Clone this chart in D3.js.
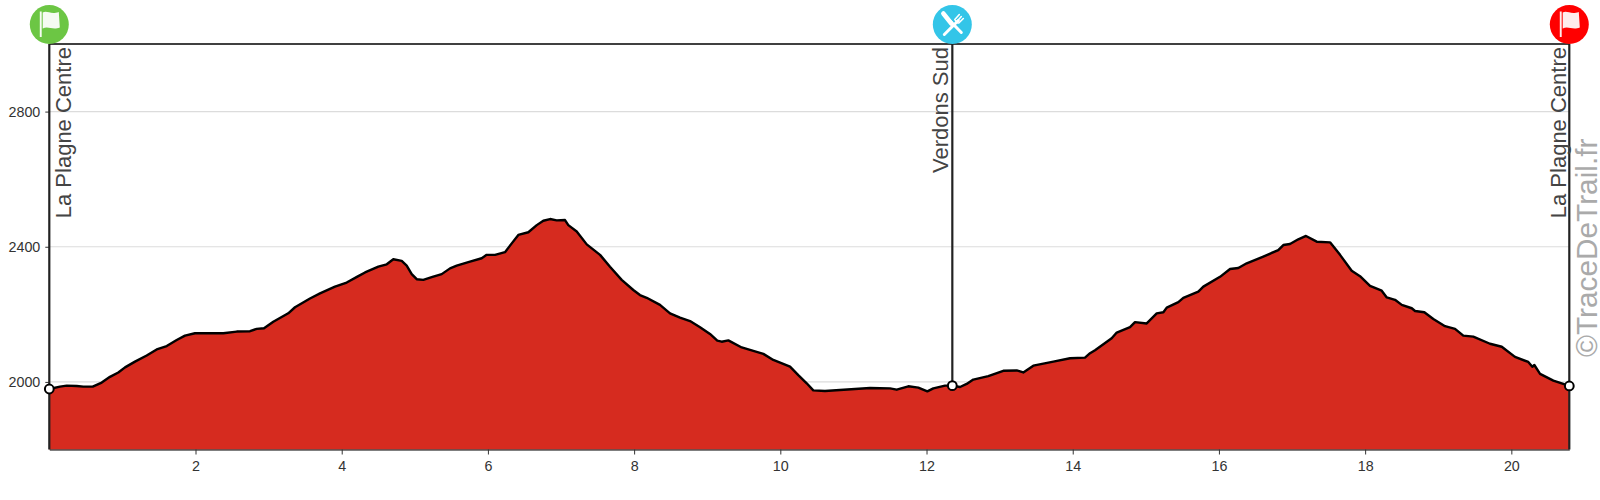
<!DOCTYPE html>
<html>
<head>
<meta charset="utf-8">
<script src="https://cdn.jsdelivr.net/npm/d3@7/dist/d3.min.js"></script>
<style>
html,body{margin:0;padding:0;background:#fff;overflow:hidden}
svg{display:block}
text{font-family:"Liberation Sans",Arial,sans-serif}
</style>
</head>
<body>
<div id="chart"></div>
<script>
const distanceKm = [0,.146,.238,.375,.465,.594,.717,.83,.944,1.036,1.172,1.332,1.469,1.606,1.743,1.856,1.993,2.153,2.38,2.564,2.746,2.837,2.937,3.064,3.269,3.361,3.566,3.703,3.908,4.068,4.227,4.319,4.501,4.616,4.706,4.821,4.889,4.958,5.026,5.116,5.231,5.368,5.482,5.573,5.755,5.915,5.983,6.097,6.234,6.326,6.416,6.553,6.668,6.758,6.85,6.941,7.055,7.1,7.215,7.352,7.534,7.67,7.83,7.989,8.08,8.172,8.354,8.491,8.628,8.765,8.902,9.038,9.138,9.198,9.289,9.472,9.631,9.768,9.904,10.133,10.246,10.361,10.451,10.611,10.816,11.227,11.5,11.592,11.751,11.888,12.011,12.093,12.253,12.353,12.458,12.549,12.64,12.845,13.05,13.234,13.324,13.461,13.735,13.963,14.168,14.237,14.305,14.533,14.602,14.784,14.852,15.012,15.149,15.24,15.286,15.445,15.513,15.718,15.787,16.015,16.152,16.265,16.38,16.607,16.812,16.881,16.972,17.086,17.191,17.338,17.52,17.657,17.816,17.93,18.067,18.227,18.296,18.409,18.501,18.638,18.683,18.81,18.933,19.093,19.23,19.343,19.48,19.708,19.869,20.05,20.232,20.287,20.315,20.393,20.575,20.793];
const elevationM = [1979,1986,1989,1988,1986,1986,1998,2015,2028,2043,2060,2078,2096,2106,2124,2137,2144,2144,2144,2149,2150,2157,2159,2178,2203,2221,2247,2262,2282,2294,2313,2324,2341,2348,2363,2358,2344,2319,2304,2302,2310,2319,2336,2344,2356,2366,2376,2376,2384,2410,2435,2443,2464,2477,2482,2478,2479,2464,2445,2407,2376,2341,2302,2272,2257,2249,2228,2203,2190,2180,2162,2142,2122,2119,2123,2102,2092,2083,2065,2045,2020,1996,1975,1973,1976,1982,1981,1977,1987,1983,1972,1981,1989,1989,1985,1994,2007,2017,2033,2034,2028,2048,2060,2070,2072,2085,2094,2129,2146,2162,2177,2173,2203,2206,2220,2236,2249,2267,2282,2311,2334,2337,2351,2371,2390,2405,2408,2422,2432,2415,2413,2376,2329,2313,2284,2270,2250,2243,2228,2218,2210,2206,2186,2165,2157,2137,2134,2113,2104,2074,2059,2045,2050,2024,2004,1988];
const xTicks = [2,4,6,8,10,12,14,16,18,20];
const yTicks = [2000,2400,2800];
const stops = ["La Plagne Centre","Verdons Sud","La Plagne Centre"];
const stopKm = [0,12.353,20.793];
const stopElev = [1979,1989,1988];
const stopColors = ["#6cc644","#33c5e8","#ff0000"];
const watermark = "©TraceDeTrail.fr";

const W = 1600, H = 500;
const x = d3.scaleLinear().domain([0,20.793]).range([49.3,1569.3]);
const y = d3.scaleLinear().domain([1800,3000]).range([449.5,44]);
const pts = distanceKm.map((d,i)=>[d,elevationM[i]]);

const svg = d3.select("#chart").append("svg").attr("width",W).attr("height",H);

// grid
svg.append("g").selectAll("line").data(yTicks).join("line")
  .attr("x1",x(0)).attr("x2",x(20.793)).attr("y1",d=>y(d)).attr("y2",d=>y(d))
  .attr("stroke","#dcdcdc").attr("stroke-width",1.2);

// area and profile
svg.append("path").datum(pts)
  .attr("d",d3.area().x(d=>x(d[0])).y0(y(1800)).y1(d=>y(d[1])))
  .attr("fill","#d62b1f");
svg.append("path").datum(pts)
  .attr("d",d3.line().x(d=>x(d[0])).y(d=>y(d[1])))
  .attr("fill","none").attr("stroke","#000").attr("stroke-width",2.4).attr("stroke-linejoin","round");

// axes
const xAxis = svg.append("g").attr("transform",`translate(0,${y(1800)})`)
  .call(d3.axisBottom(x).tickValues(xTicks).tickSize(5).tickSizeOuter(0).tickPadding(6).tickFormat(d3.format("d")));
const yAxis = svg.append("g").attr("transform",`translate(${x(0)},0)`)
  .call(d3.axisLeft(y).tickValues(yTicks).tickSize(4).tickPadding(5).tickFormat(d3.format("d")));
[xAxis,yAxis].forEach(a=>{
  a.selectAll("text").attr("font-size",14.3).attr("fill","#333").style("font-family",'"Liberation Sans",Arial,sans-serif');
  a.selectAll("line").attr("stroke","#333");
});
xAxis.select(".domain").attr("stroke","#000").attr("stroke-width",1.2);
yAxis.select(".domain").remove();

// top border
svg.append("line").attr("x1",x(0)).attr("x2",x(20.793)).attr("y1",y(3000)).attr("y2",y(3000))
  .attr("stroke","#000").attr("stroke-width",1.5);

// stop lines
svg.append("g").selectAll("line").data(stopKm).join("line")
  .attr("x1",d=>x(d)).attr("x2",d=>x(d))
  .attr("y1",y(3000)).attr("y2",(d,i)=> i===1 ? y(stopElev[1]) : y(1800))
  .attr("stroke","#222").attr("stroke-width",2.2);

// stop labels
const labelOffset = [22,-4,-3];
svg.append("g").selectAll("text").data(stops).join("text")
  .attr("transform",(d,i)=>`translate(${x(stopKm[i])+labelOffset[i]},47) rotate(-90)`)
  .attr("text-anchor","end").attr("font-size",22).attr("fill","#444").text(d=>d);

// stop markers
svg.append("g").selectAll("circle").data(stopKm).join("circle")
  .attr("cx",d=>x(d)).attr("cy",(d,i)=>y(stopElev[i])).attr("r",4.4)
  .attr("fill","#fff").attr("stroke","#000").attr("stroke-width",2);

// watermark
svg.append("text").attr("transform","translate(1597,357) rotate(-90)")
  .attr("font-size",29.8).attr("fill","#aaa").text(watermark);

// icons
const flagPath = "M-9.5,-13 L-7.6,-13 L-7.6,12.5 L-9.5,12.5 Z M-6.6,-12 C-2,-14.5 1,-9.5 9.5,-12.5 L10.5,3 C3,6 -1,1 -6.6,4 Z";
const icons = svg.append("g").selectAll("g").data(stopKm).join("g")
  .attr("transform",d=>`translate(${x(d)},${y(3000)-19.5})`);
icons.append("circle").attr("r",19.5).attr("fill",(d,i)=>stopColors[i]);
icons.filter((d,i)=>i!==1).append("path")
  .attr("d",flagPath).attr("fill","#fff").attr("fill-opacity",.93);
const cutlery = icons.filter((d,i)=>i===1).append("g").attr("fill","none").attr("stroke","#fff").attr("stroke-linecap","round");
cutlery.append("path").attr("d","M-8.5,-10 L9,8").attr("stroke-width",3);
cutlery.append("path").attr("d","M-9,-11 L-1,-1").attr("stroke-width",4.5);
cutlery.append("path").attr("d","M-8,10 L6,-4").attr("stroke-width",3);
cutlery.append("path").attr("d","M2.5,-5 L7,-10 M4.5,-3 L9,-8 M6.5,-1.5 L11,-6 M3,-4 L5.5,-1.5").attr("stroke-width",1.6);
</script>
</body>
</html>
